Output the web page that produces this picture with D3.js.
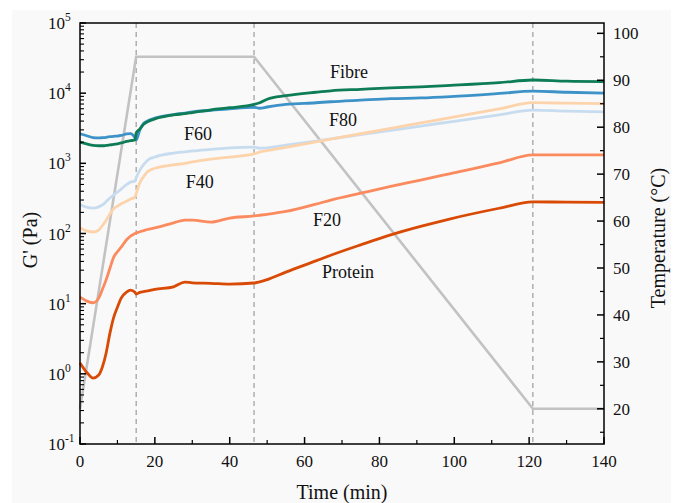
<!DOCTYPE html>
<html lang="en">
<head>
<meta charset="UTF-8">
<title>G' and temperature</title>
<script src="https://cdn.jsdelivr.net/npm/d3@7"></script>
<style>
  html, body { margin: 0; padding: 0; background: #fff; }
  text { font-family: "Liberation Serif", "Times New Roman", serif; fill: #111; }
</style>
</head>
<body>
<svg id="chart"></svg>
<script>
// time grid (min) shared by all G' series
var times = [0, 2, 3.5, 5, 6, 7, 8, 9, 10, 11, 12.5, 13.5, 14.7, 15, 16, 17, 18, 20, 25, 28, 30, 35, 40, 46.5, 48, 50, 55, 63, 67, 75, 83, 91, 99, 112, 121, 130, 140];

// G' (Pa)
var fibre   = [2000, 1880, 1800, 1780, 1780, 1800, 1830, 1860, 1900, 1950, 2050, 2100, 2150, 2700, 3100, 3600, 3900, 4300, 4900, 5100, 5300, 5800, 6200, 6900, 7300, 8200, 9200, 10300, 10800, 11350, 11900, 12300, 12900, 14100, 15400, 14800, 14600];
var f60     = [2640, 2450, 2330, 2300, 2320, 2350, 2400, 2430, 2450, 2500, 2620, 2650, 2300, 2150, 3000, 3700, 4000, 4400, 4950, 5200, 5400, 5700, 6000, 6300, 6100, 6350, 6900, 7300, 7550, 7950, 8350, 8550, 8950, 9900, 10700, 10300, 10000];
var f80     = [260, 235, 230, 240, 255, 285, 320, 355, 390, 430, 500, 540, 560, 620, 800, 960, 1100, 1230, 1400, 1460, 1500, 1580, 1660, 1700, 1640, 1660, 1810, 2080, 2230, 2570, 2940, 3400, 3910, 4910, 5750, 5550, 5430];
var f40     = [120, 108, 105, 112, 130, 155, 190, 225, 245, 265, 290, 310, 330, 370, 530, 650, 760, 850, 950, 1000, 1050, 1150, 1230, 1360, 1445, 1520, 1690, 2020, 2210, 2640, 3150, 3760, 4490, 5980, 7310, 7200, 7100];
var f20     = [12.4, 10.8, 10.3, 12, 16, 22, 32, 46, 55, 64, 82, 92, 100, 102, 106, 110, 114, 120, 142, 155, 155, 145, 166, 178, 182, 188, 206, 262, 300, 375, 468, 578, 716, 1014, 1318, 1320, 1320];
var protein = [1.43, 1.02, 0.87, 0.96, 1.26, 2.0, 3.8, 6.4, 8.9, 12, 14.7, 15.6, 14.5, 13.7, 14.5, 14.8, 15.2, 16.0, 17.4, 20.3, 19.8, 19.5, 19.0, 19.7, 20.5, 22, 28.2, 40.7, 49, 69, 95.5, 126, 162, 229, 282, 280, 278];

var seriesNames = ["Fibre", "F60", "F80", "F40", "F20", "Protein"];

// temperature programme (right axis)
var tempTimes = [0, 15, 46.5, 121, 140];
var tempVals  = [20, 95, 95, 20, 20];

// stage boundaries (dashed lines)
var stageTimes = [15, 46.5, 121];

// tick values
var xTicks = [0, 20, 40, 60, 80, 100, 120, 140];
var yExps = [-1, 0, 1, 2, 3, 4, 5];
var tTicks = [20, 30, 40, 50, 60, 70, 80, 90, 100];

// label anchors in data units [time, G']
var labelTimes = [71.9, 31.5, 70.3, 32, 66, 71.6];
var labelVals  = [16400, 2150, 3400, 445, 128, 23.2];

var colors = ["#0e7d57", "#3d93c8", "#c8dcf0", "#fdd3ac", "#fb8b5e", "#d84a05"];

var width = 681, height = 503;
var svg = d3.select("#chart").attr("width", width).attr("height", height);

svg.append("rect").attr("x", 12).attr("y", 10).attr("width", 659).attr("height", 493).attr("fill", "#f9f9f9");

var x = d3.scaleLinear().domain([0, 140]).range([80, 604]);
var y = d3.scaleLog().domain([0.1, 1e5]).range([444, 23]);
var yT = d3.scaleLinear().domain([12.5, 102.2]).range([444, 23]);

// dashed stage lines
svg.selectAll(".stage").data(stageTimes).enter().append("line")
    .attr("x1", d => x(d)).attr("x2", d => x(d))
    .attr("y1", 23).attr("y2", 444)
    .attr("stroke", "#8a8a8a").attr("stroke-width", 1)
    .attr("stroke-dasharray", "5,4");

// temperature line
var tempLine = d3.line().x(d => x(d[0])).y(d => yT(d[1]));
svg.append("path")
    .datum(d3.zip(tempTimes, tempVals))
    .attr("d", tempLine)
    .attr("fill", "none").attr("stroke", "#c2c2c2").attr("stroke-width", 2.6);

// G' curves
var allSeries = [fibre, f60, f80, f40, f20, protein];
var line = d3.line().x(d => x(d[0])).y(d => y(d[1])).curve(d3.curveMonotoneX);
// light ones first so the darker lines sit on top
var order = [2, 3, 4, 5, 1, 0];
order.forEach(function (i) {
    svg.append("path")
        .datum(d3.zip(times, allSeries[i]))
        .attr("d", line)
        .attr("fill", "none")
        .attr("stroke", colors[i])
        .attr("stroke-width", 2.8)
        .attr("stroke-linejoin", "round");
});

// series labels
svg.selectAll(".lbl").data(seriesNames).enter().append("text")
    .attr("x", (d, i) => x(labelTimes[i]))
    .attr("y", (d, i) => y(labelVals[i]))
    .attr("text-anchor", "middle")
    .style("font-size", "18px")
    .text(d => d);

// frame
svg.append("rect").attr("x", 80).attr("y", 23).attr("width", 524).attr("height", 421)
    .attr("fill", "none").attr("stroke", "#000").attr("stroke-width", 1.5);

// x axis ticks (inward)
var xMinor = d3.range(10, 140, 20);
svg.selectAll(".xt").data(xTicks).enter().append("line")
    .attr("x1", d => x(d)).attr("x2", d => x(d)).attr("y1", 444).attr("y2", 437)
    .attr("stroke", "#000").attr("stroke-width", 1.5);
svg.selectAll(".xm").data(xMinor).enter().append("line")
    .attr("x1", d => x(d)).attr("x2", d => x(d)).attr("y1", 444).attr("y2", 440)
    .attr("stroke", "#000").attr("stroke-width", 1.2);
svg.selectAll(".xl").data(xTicks).enter().append("text")
    .attr("x", d => x(d)).attr("y", 467)
    .attr("text-anchor", "middle").style("font-size", "17px")
    .text(d => d);

// left log axis
var yMinor = [];
yExps.slice(0, -1).forEach(function (e) {
    for (var k = 2; k <= 9; k++) yMinor.push(k * Math.pow(10, e));
});
svg.selectAll(".yt").data(yExps).enter().append("line")
    .attr("x1", 80).attr("x2", 86)
    .attr("y1", d => y(Math.pow(10, d))).attr("y2", d => y(Math.pow(10, d)))
    .attr("stroke", "#000").attr("stroke-width", 1.5);
svg.selectAll(".ym").data(yMinor).enter().append("line")
    .attr("x1", 80).attr("x2", 84)
    .attr("y1", d => y(d)).attr("y2", d => y(d))
    .attr("stroke", "#000").attr("stroke-width", 1.1);
var yl = svg.selectAll(".yl").data(yExps).enter().append("text")
    .attr("x", 48).attr("y", d => y(Math.pow(10, d)) + 6)
    .style("font-size", "17px");
yl.append("tspan").text("10");
yl.append("tspan").attr("dy", -8).style("font-size", "11.5px").text(d => d < 0 ? "-" + Math.abs(d) : d);

// right temperature axis
var tMinor = d3.range(15, 101, 10);
svg.selectAll(".tt").data(tTicks).enter().append("line")
    .attr("x1", 604).attr("x2", 597)
    .attr("y1", d => yT(d)).attr("y2", d => yT(d))
    .attr("stroke", "#000").attr("stroke-width", 1.5);
svg.selectAll(".tm").data(tMinor).enter().append("line")
    .attr("x1", 604).attr("x2", 600)
    .attr("y1", d => yT(d)).attr("y2", d => yT(d))
    .attr("stroke", "#000").attr("stroke-width", 1.2);
svg.selectAll(".tl").data(tTicks).enter().append("text")
    .attr("x", 613).attr("y", d => yT(d) + 6)
    .style("font-size", "17px")
    .text(d => d);

// axis titles
svg.append("text").attr("x", 342).attr("y", 499)
    .attr("text-anchor", "middle").style("font-size", "20px")
    .text("Time (min)");
svg.append("text")
    .attr("transform", "translate(37,240) rotate(-90)")
    .attr("text-anchor", "middle").style("font-size", "20px")
    .text("G' (Pa)");
svg.append("text")
    .attr("transform", "translate(665,238) rotate(-90)")
    .attr("text-anchor", "middle").style("font-size", "20px")
    .text("Temperature (°C)");
</script>
</body>
</html>
